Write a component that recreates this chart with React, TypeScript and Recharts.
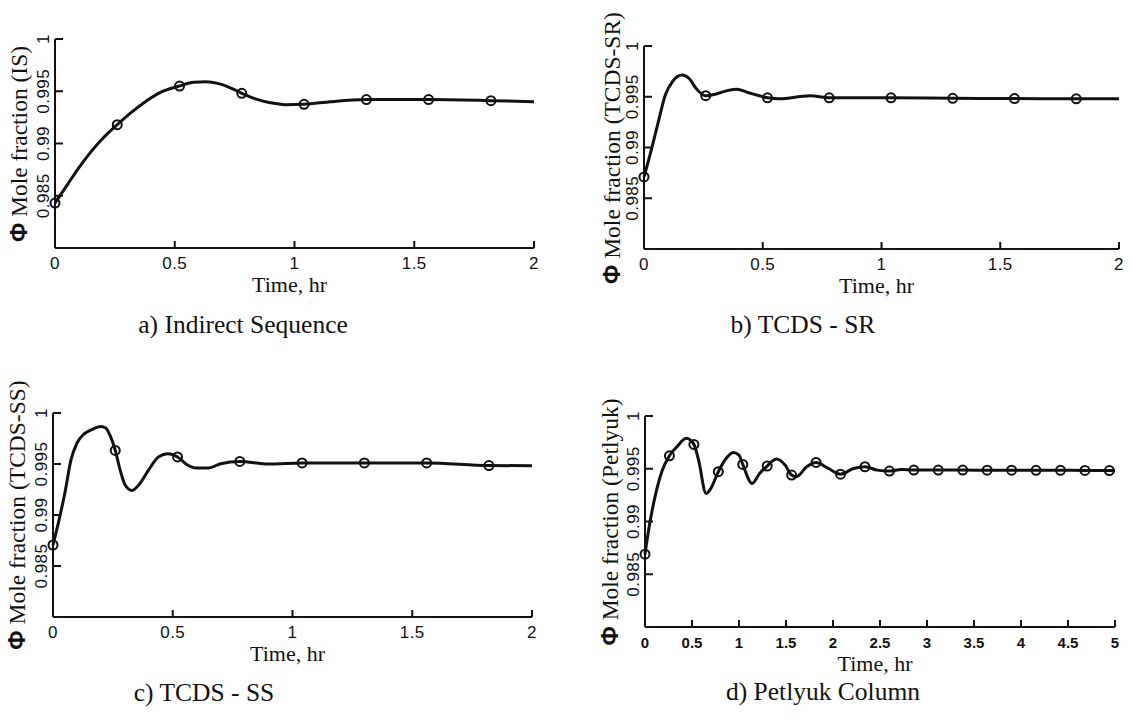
import React from 'react';
import { LineChart, Line, XAxis, YAxis } from 'recharts';

// a) Indirect Sequence
const isTime = [0, 0.05, 0.1, 0.15, 0.2, 0.26, 0.32, 0.38, 0.44, 0.52, 0.58, 0.63, 0.68, 0.73, 0.78, 0.84, 0.9, 0.96, 1.04, 1.15, 1.3, 1.56, 1.82, 2];
const isValue = [0.9843, 0.986, 0.9877, 0.9892, 0.9905, 0.9918, 0.993, 0.99405, 0.9949, 0.9955, 0.99585, 0.9959, 0.99575, 0.99535, 0.9948, 0.99425, 0.9939, 0.99372, 0.99375, 0.994, 0.9942, 0.9942, 0.9941, 0.994];
const isMarkTime = [0, 0.26, 0.52, 0.78, 1.04, 1.3, 1.56, 1.82];
const isMarkValue = [0.9843, 0.9918, 0.9955, 0.9948, 0.99375, 0.9942, 0.9942, 0.9941];

// b) TCDS - SR
const srTime = [0, 0.03, 0.06, 0.09, 0.12, 0.16, 0.19, 0.22, 0.26, 0.3, 0.35, 0.39, 0.44, 0.52, 0.57, 0.7, 0.78, 1.04, 1.3, 1.56, 1.82, 2];
const srValue = [0.9871, 0.9897, 0.9925, 0.9952, 0.9965, 0.99715, 0.9968, 0.9958, 0.9951, 0.99525, 0.9956, 0.99575, 0.9954, 0.9949, 0.9948, 0.9951, 0.9949, 0.9949, 0.99485, 0.99482, 0.9948, 0.9948];
const srMarkTime = [0, 0.26, 0.52, 0.78, 1.04, 1.3, 1.56, 1.82];
const srMarkValue = [0.9871, 0.9951, 0.9949, 0.9949, 0.9949, 0.99485, 0.99482, 0.9948];

// c) TCDS - SS
const ssTime = [0, 0.025, 0.05, 0.075, 0.1, 0.13, 0.16, 0.2, 0.22, 0.24, 0.26, 0.28, 0.3, 0.33, 0.36, 0.4, 0.44, 0.48, 0.52, 0.56, 0.6, 0.65, 0.7, 0.78, 0.9, 1.04, 1.3, 1.56, 1.82, 2];
const ssValue = [0.98706, 0.9895, 0.9922, 0.9954, 0.99705, 0.99796, 0.99835, 0.99868, 0.99853, 0.9977, 0.99633, 0.99444, 0.993, 0.99241, 0.993, 0.99444, 0.99569, 0.996, 0.99569, 0.99493, 0.9946, 0.9946, 0.99503, 0.99525, 0.995, 0.9951, 0.9951, 0.9951, 0.99485, 0.99483];
const ssMarkTime = [0, 0.26, 0.52, 0.78, 1.04, 1.3, 1.56, 1.82];
const ssMarkValue = [0.98706, 0.99633, 0.99569, 0.99525, 0.9951, 0.9951, 0.9951, 0.99485];

// d) Petlyuk Column
const pcTime = [0, 0.05, 0.115, 0.185, 0.26, 0.34, 0.44, 0.52, 0.57, 0.65, 0.7, 0.78, 0.85, 0.94, 1.0, 1.04, 1.14, 1.22, 1.3, 1.4, 1.49, 1.56, 1.61, 1.72, 1.82, 1.95, 2.08, 2.22, 2.34, 2.47, 2.6, 2.73, 2.86, 3.12, 3.38, 3.64, 3.9, 4.16, 4.42, 4.68, 4.94, 5];
const pcValue = [0.9869, 0.9898, 0.99266, 0.99487, 0.99623, 0.99709, 0.99788, 0.99731, 0.99582, 0.99266, 0.99313, 0.99472, 0.99582, 0.99655, 0.9963, 0.99541, 0.99361, 0.99456, 0.99526, 0.99592, 0.99535, 0.9944, 0.99424, 0.99519, 0.9956, 0.99503, 0.99449, 0.99503, 0.99519, 0.99487, 0.99478, 0.99494, 0.99488, 0.99488, 0.99487, 0.99486, 0.99486, 0.99485, 0.99485, 0.99484, 0.99483, 0.99482];
const pcMarkTime = [0, 0.26, 0.52, 0.78, 1.04, 1.3, 1.56, 1.82, 2.08, 2.34, 2.6, 2.86, 3.12, 3.38, 3.64, 3.9, 4.16, 4.42, 4.68, 4.94];
const pcMarkValue = [0.9869, 0.99623, 0.99731, 0.99472, 0.99541, 0.99526, 0.9944, 0.9956, 0.99449, 0.99519, 0.99478, 0.99488, 0.99488, 0.99487, 0.99486, 0.99486, 0.99485, 0.99485, 0.99484, 0.99483];

const yTicks = [0.985, 0.99, 0.995, 1];
const xTicks2 = [0, 0.5, 1, 1.5, 2];
const xTicks5 = [0, 0.5, 1, 1.5, 2, 2.5, 3, 3.5, 4, 4.5, 5];

const INK = '#111';
const SANS = '"Liberation Sans", Arial, sans-serif';
const SERIF = '"Liberation Serif", "Times New Roman", Times, serif';

const toRows = (t: number[], v: number[]) => t.map((x, i) => ({ t: x, v: v[i] }));

function XTick(props: any) {
  const { x, y, payload, small } = props;
  return (
    <g>
      {payload.value !== 0 && <line x1={x} x2={x} y1={y} y2={y - 7} stroke={INK} strokeWidth={2} />}
      <text x={x} y={y + 15} textAnchor="middle" dominantBaseline="central"
        fontFamily={SANS} fontSize={small ? 15 : 17} fontWeight={small ? 'bold' : 'normal'}
        letterSpacing={small ? 0 : 0.5} fill={INK}>
        {payload.value}
      </text>
    </g>
  );
}

function YTick(props: any) {
  const { x, y, payload } = props;
  const lx = x - 12;
  return (
    <g>
      <line x1={x} x2={x + 8} y1={y} y2={y} stroke={INK} strokeWidth={2} />
      <text x={lx} y={y} transform={`rotate(-90 ${lx} ${y})`} textAnchor="middle" dominantBaseline="central"
        fontFamily={SANS} fontSize={17} letterSpacing={0.5} fill={INK}>
        {payload.value}
      </text>
    </g>
  );
}

interface PanelProps {
  left: number; top: number; width: number; height: number;
  plot: [number, number, number, number];
  time: number[]; value: number[]; markTime: number[]; markValue: number[];
  xMax: number; xTicks: number[]; small?: boolean;
  yLabel: string; yLabelX: number;
  caption: string; captionX: number; captionY: number;
}

function Panel(p: PanelProps) {
  const [x0, y0, x1, y1] = p.plot;
  const axisW = x0 - p.left;
  const axisH = p.top + p.height - y1;
  const margin = { left: 0, top: y0 - p.top, right: p.left + p.width - x1, bottom: 0 };
  const curve = toRows(p.time, p.value);
  const marks = toRows(p.markTime, p.markValue);
  const cx = (x0 + x1) / 2;
  const cy = (y0 + y1) / 2;
  return (
    <>
      <div style={{ position: 'absolute', left: p.left, top: p.top }}>
        <LineChart width={p.width} height={p.height} margin={margin}>
          <XAxis type="number" dataKey="t" domain={[0, p.xMax]} ticks={p.xTicks} height={axisH}
            tickSize={0} tickMargin={0} tickLine={false} axisLine={{ stroke: INK, strokeWidth: 2 }}
            tick={<XTick small={p.small} />} interval={0} />
          <YAxis type="number" domain={[0.98, 1]} ticks={yTicks} width={axisW}
            tickSize={0} tickMargin={0} tickLine={false} axisLine={{ stroke: INK, strokeWidth: 2 }}
            tick={<YTick />} interval={0} />
          <Line data={curve} dataKey="v" type="monotone" stroke={INK} strokeWidth={3}
            dot={false} activeDot={false} isAnimationActive={false} />
          <Line data={marks} dataKey="v" stroke="none" isAnimationActive={false} activeDot={false}
            dot={{ r: 4.5, stroke: INK, strokeWidth: 2, fill: 'none' }} />
        </LineChart>
      </div>
      <div style={{
        position: 'absolute', left: p.yLabelX, top: cy, transform: 'translate(-50%, -50%) rotate(-90deg)',
        whiteSpace: 'nowrap', fontFamily: SERIF, fontSize: 23.5, lineHeight: 1, color: INK,
      }}>
        <span style={{ fontFamily: SANS, fontWeight: 'bold' }}>Φ</span> {p.yLabel}
      </div>
      <div style={{
        position: 'absolute', left: cx - 5, top: y1 + 37, transform: 'translate(-50%, -50%)',
        whiteSpace: 'nowrap', fontFamily: SERIF, fontSize: 22, lineHeight: 1, color: INK,
      }}>
        Time, hr
      </div>
      <div style={{
        position: 'absolute', left: p.captionX, top: p.captionY, transform: 'translate(-50%, -50%)',
        whiteSpace: 'nowrap', fontFamily: SERIF, fontSize: 25.5, lineHeight: 1, color: INK,
      }}>
        {p.caption}
      </div>
    </>
  );
}

export default function App() {
  return (
    <div style={{ position: 'absolute', left: 0, top: 0, width: 1131, height: 727, background: '#fff', overflow: 'hidden' }}>
      <Panel left={0} top={0} width={565} height={300} plot={[55, 39, 534, 248]}
        time={isTime} value={isValue} markTime={isMarkTime} markValue={isMarkValue}
        xMax={2} xTicks={xTicks2} yLabel="Mole fraction (IS)" yLabelX={20}
        caption="a) Indirect Sequence" captionX={243} captionY={325} />
      <Panel left={565} top={0} width={566} height={300} plot={[644, 46, 1119, 249]}
        time={srTime} value={srValue} markTime={srMarkTime} markValue={srMarkValue}
        xMax={2} xTicks={xTicks2} yLabel="Mole fraction (TCDS-SR)" yLabelX={613}
        caption="b) TCDS - SR" captionX={803} captionY={325} />
      <Panel left={0} top={360} width={565} height={300} plot={[53, 413, 532, 617]}
        time={ssTime} value={ssValue} markTime={ssMarkTime} markValue={ssMarkValue}
        xMax={2} xTicks={xTicks2} yLabel="Mole fraction (TCDS-SS)" yLabelX={18}
        caption="c) TCDS - SS" captionX={204} captionY={693} />
      <Panel left={565} top={360} width={566} height={300} plot={[645, 416, 1115, 627]}
        time={pcTime} value={pcValue} markTime={pcMarkTime} markValue={pcMarkValue}
        xMax={5} xTicks={xTicks5} small yLabel="Mole fraction (Petlyuk)" yLabelX={611}
        caption="d) Petlyuk Column" captionX={823} captionY={692} />
    </div>
  );
}
